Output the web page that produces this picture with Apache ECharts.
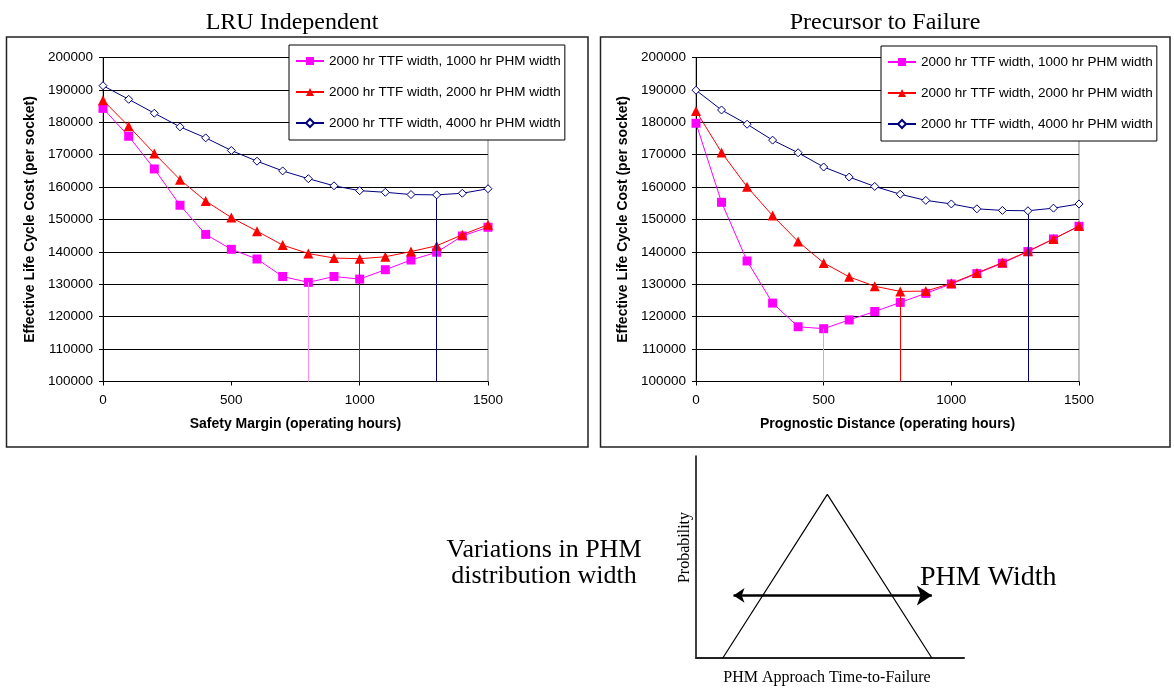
<!DOCTYPE html>
<html>
<head>
<meta charset="utf-8">
<script src="https://cdn.jsdelivr.net/npm/echarts@6/dist/echarts.min.js"></script>
<style>
html,body{margin:0;padding:0;background:#fff;}
#chart{width:1174px;height:689px;}
</style>
</head>
<body>
<div id="chart"></div>
<script>
// ---------- data ----------
const xHours = [0,100,200,300,400,500,600,700,800,900,1000,1100,1200,1300,1400,1500];
const seriesNames = [
  '2000 hr TTF width, 1000 hr PHM width',
  '2000 hr TTF width, 2000 hr PHM width',
  '2000 hr TTF width, 4000 hr PHM width'
];
const lruPink = [184300,175700,165600,154400,145400,140800,137800,132400,130600,132400,131600,134500,137500,139900,144900,147600];
const lruRed  = [186800,178800,170400,162300,155700,150600,146400,142100,139500,138100,137900,138500,140100,141900,145300,148400];
const lruNavy = [191300,187100,182800,178600,175200,171300,168000,165000,162600,160400,158900,158400,157700,157600,158100,159500];
const prePink = [179700,155300,137200,124200,116900,116300,119000,121600,124400,127200,130100,133300,136500,140100,144000,147900];
const preRed  = [183500,170700,160100,151200,143200,136600,132300,129400,127800,127900,130300,133500,136700,140200,144000,148000];
const preNavy = [189900,183800,179400,174500,170600,166200,163100,160200,157800,155900,154800,153300,152800,152700,153500,154800];
const lruOptimum = [800,1000,1300];
const preOptimum = [500,800,1300];
const yTicks = {min:100000, max:200000, interval:10000};
const xTicks = {min:0, max:1500, interval:500};
const chartTitles = ['LRU Independent','Precursor to Failure'];
const xAxisNames = ['Safety Margin (operating hours)','Prognostic Distance (operating hours)'];
const yAxisName = 'Effective Life Cycle Cost (per socket)';
// schematic (PHM distribution)
const triangleX = [10, 49, 88];
const triangleY = [0, 81, 0];
const arrowX = [14, 88];
const arrowY = 31;

// ---------- styles ----------
const SANS = '"Liberation Sans", Arial, sans-serif';
const SERIF = '"Liberation Serif", "Times New Roman", serif';
const lineColors = ['#FF00FF','#FF0000','#000080'];
const dropColors = ['#FF8CFF','#FF0000','#000080'];

function pairs(vals){ return xHours.map((x,i)=>[x, vals[i]]); }

function makeSeries(vals, k, gi, optimum){
  const xo = optimum[k];
  const yo = vals[xHours.indexOf(xo)];
  const s = {
    type:'line', name: seriesNames[k], xAxisIndex: gi, yAxisIndex: gi,
    data: pairs(vals), showSymbol:true, z: 3+k,
    lineStyle:{color: lineColors[k], width:1},
    markLine:{
      silent:true, symbol:'none', label:{show:false},
      lineStyle:{color: dropColors[k], width:1, type:'solid'},
      data:[[{coord:[xo, yo]},{coord:[xo, yTicks.min]}]]
    }
  };
  if (k===0){ s.symbol='rect'; s.symbolSize=9; s.itemStyle={color:'#FF00FF'}; }
  if (k===1){ s.symbol='triangle'; s.symbolSize=10; s.itemStyle={color:'#FF0000'}; }
  if (k===2){ s.symbol='diamond'; s.symbolSize=8; s.itemStyle={color:'#FFFFFF', borderColor:'#000080', borderWidth:1}; }
  return s;
}

const grids = [
  {left:103, top:57.5, width:385, height:324},
  {left:696, top:57.5, width:383, height:324},
  {left:696, top:456, width:268, height:202}
];

function valueX(gi){
  return {
    type:'value', gridIndex:gi, min:xTicks.min, max:xTicks.max, interval:xTicks.interval,
    name:xAxisNames[gi], nameLocation:'middle', nameGap:36,
    nameTextStyle:{fontFamily:SANS, fontWeight:'bold', fontSize:14, color:'#000'},
    axisLine:{show:true, onZero:false, lineStyle:{color:'#000', width:1}},
    axisTick:{show:true, length:4, lineStyle:{color:'#000'}},
    axisLabel:{fontFamily:SANS, fontSize:13.5, color:'#000', margin:12, formatter:(v)=>String(v)},
    splitLine:{show:false}
  };
}
function valueY(gi){
  return {
    type:'value', gridIndex:gi, min:yTicks.min, max:yTicks.max, interval:yTicks.interval,
    name:yAxisName, nameLocation:'middle', nameGap:66, nameRotate:90,
    nameTextStyle:{fontFamily:SANS, fontWeight:'bold', fontSize:14, color:'#000'},
    axisLine:{show:true, onZero:false, lineStyle:{color:'#000', width:1}},
    axisTick:{show:true, length:4, lineStyle:{color:'#000'}},
    axisLabel:{fontFamily:SANS, fontSize:13.5, color:'#000', margin:10, formatter:(v)=>String(v)},
    splitLine:{show:true, lineStyle:{color:'#000', width:1}}
  };
}

function legendAt(left, top){
  return {
    orient:'vertical', left:left, top:top, data:seriesNames,
    backgroundColor:'#fff', borderColor:'#000', borderWidth:1,
    padding:[8,4,9,6], itemGap:15, itemWidth:28, itemHeight:10, itemTextGap:4,
    textStyle:{fontFamily:SANS, fontSize:13.5, color:'#000', lineHeight:16},
    selectedMode:false
  };
}

const series = [
  makeSeries(lruPink,0,0,lruOptimum),
  makeSeries(lruRed,1,0,lruOptimum),
  makeSeries(lruNavy,2,0,lruOptimum),
  makeSeries(prePink,0,1,preOptimum),
  makeSeries(preRed,1,1,preOptimum),
  makeSeries(preNavy,2,1,preOptimum),
  {
    type:'line', xAxisIndex:2, yAxisIndex:2, symbol:'none', silent:true,
    data: triangleX.map((x,i)=>[x, triangleY[i]]),
    lineStyle:{color:'#000', width:1.2}
  },
  {
    type:'lines', coordinateSystem:'cartesian2d', xAxisIndex:2, yAxisIndex:2, silent:true,
    symbol:['arrow','arrow'], symbolSize:[11,15],
    lineStyle:{color:'#000', width:2.5, opacity:1},
    data:[{coords:[[arrowX[0], arrowY],[arrowX[1], arrowY]]}]
  }
];

const option = {
  animation:false,
  backgroundColor:'#fff',
  grid: grids.map((g,i)=>Object.assign({show: i<2, borderColor:'#808080', borderWidth:1, backgroundColor:'transparent'}, g)),
  xAxis:[valueX(0), valueX(1), {
    type:'value', gridIndex:2, min:0, max:100,
    axisLine:{show:true, onZero:false, lineStyle:{color:'#222', width:2}},
    axisTick:{show:false}, axisLabel:{show:false}, splitLine:{show:false}
  }],
  yAxis:[valueY(0), valueY(1), {
    type:'value', gridIndex:2, min:0, max:100,
    axisLine:{show:true, onZero:false, lineStyle:{color:'#000', width:1.5}},
    axisTick:{show:false}, axisLabel:{show:false}, splitLine:{show:false}
  }],
  legend:[legendAt(289,45), legendAt(881,46)],
  series: series,
  graphic:[
    {type:'rect', z:-10, shape:{x:6.5, y:37, width:581.5, height:410}, style:{fill:'#fff', stroke:'#222', lineWidth:1.5}},
    {type:'rect', z:-10, shape:{x:600.5, y:37, width:569.5, height:410}, style:{fill:'#fff', stroke:'#222', lineWidth:1.5}},
    {type:'text', x:292, y:23, style:{text:chartTitles[0], font:'24px '+SERIF, fill:'#000', textAlign:'center', textVerticalAlign:'middle'}},
    {type:'text', x:885, y:23, style:{text:chartTitles[1], font:'24px '+SERIF, fill:'#000', textAlign:'center', textVerticalAlign:'middle'}},
    {type:'text', x:544, y:550, style:{text:'Variations in PHM', font:'26px '+SERIF, fill:'#000', textAlign:'center', textVerticalAlign:'middle'}},
    {type:'text', x:544, y:576, style:{text:'distribution width', font:'26px '+SERIF, fill:'#000', textAlign:'center', textVerticalAlign:'middle'}},
    {type:'text', x:920, y:578, style:{text:'PHM Width', font:'28px '+SERIF, fill:'#000', textAlign:'left', textVerticalAlign:'middle'}},
    {type:'text', x:685, y:547.5, rotation:Math.PI/2, style:{text:'Probability', font:'16px '+SERIF, fill:'#000', textAlign:'center', textVerticalAlign:'middle'}},
    {type:'text', x:827, y:677.5, style:{text:'PHM Approach Time-to-Failure', font:'16px '+SERIF, fill:'#000', textAlign:'center', textVerticalAlign:'middle'}}
  ]
};

const chart = echarts.init(document.getElementById('chart'), null, {renderer:'canvas'});
chart.setOption(option);
</script>
</body>
</html>
